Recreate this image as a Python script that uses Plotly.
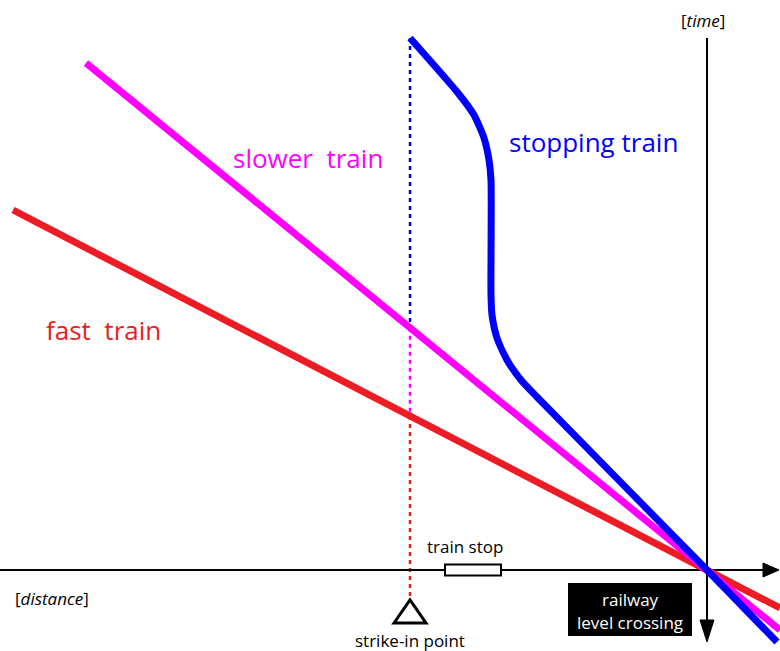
import plotly.graph_objects as go

# Diagram units: distance (x) measured from the level crossing, time (t) measured from the crossing moment
fast_x = [-694, 73]
fast_t = [360, -38]
slow_x = [-621, 73]
slow_t = [507, -60]
stop_x = [-297, -249, -233, -223, -218, -216, -216, -215, -210, -200, -186, -170, 0, 70]
stop_t = [532, 477, 455, 432, 410, 390, 275, 255, 232, 210, 190, 173, 0, -72]

strike_x = -297
crossing_x = 0
train_stop = [-262, -206]
x_range = [-707, 73]
t_range = [-81, 570]
t_axis_top = 532

RED = "#ED1C24"
MAG = "#FF00FF"
BLUE = "#0000FF"
FONT = "Open Sans"


def interp(xs, ts, x):
    for i in range(len(xs) - 1):
        if xs[i] <= x <= xs[i + 1]:
            f = (x - xs[i]) / (xs[i + 1] - xs[i])
            return ts[i] + f * (ts[i + 1] - ts[i])
    return None


t_blue = stop_t[0]
t_mag = interp(slow_x, slow_t, strike_x)
t_red = interp(fast_x, fast_t, strike_x)
t_tri_top = -30
t_tri_base = -53

fig = go.Figure()

# dotted strike-in verticals
for (t0, t1, c) in [(t_blue, t_mag, BLUE), (t_mag, t_red, MAG), (t_red, t_tri_top, RED)]:
    fig.add_trace(go.Scatter(x=[strike_x, strike_x], y=[t0, t1], mode="lines",
                             line=dict(color=c, width=2.5, dash="4px,4px"),
                             hoverinfo="skip", showlegend=False))

# axes lines
fig.add_trace(go.Scatter(x=[x_range[0], 60], y=[0, 0], mode="lines",
                         line=dict(color="black", width=2), hoverinfo="skip", showlegend=False))
fig.add_trace(go.Scatter(x=[crossing_x, crossing_x], y=[t_axis_top, -55], mode="lines",
                         line=dict(color="black", width=2), hoverinfo="skip", showlegend=False))

# train lines
fig.add_trace(go.Scatter(x=fast_x, y=fast_t, mode="lines", line=dict(color=RED, width=7),
                         hoverinfo="skip", showlegend=False))
fig.add_trace(go.Scatter(x=slow_x, y=slow_t, mode="lines", line=dict(color=MAG, width=7),
                         hoverinfo="skip", showlegend=False))
fig.add_trace(go.Scatter(x=stop_x, y=stop_t, mode="lines",
                         line=dict(color=BLUE, width=7, shape="spline", smoothing=0.6),
                         hoverinfo="skip", showlegend=False))

shapes = []
# arrowheads
shapes.append(dict(type="path", xref="x", yref="y",
                   path="M 56 7 L 72 0 L 56 -7 Z", fillcolor="black", line=dict(color="black", width=1)))
shapes.append(dict(type="path", xref="x", yref="y",
                   path="M -7 -50 L 0 -72 L 7 -50 Z", fillcolor="black", line=dict(color="black", width=1)))
# train stop rectangle
shapes.append(dict(type="rect", xref="x", yref="y", x0=train_stop[0], x1=train_stop[1], y0=-5.5, y1=5.5,
                   fillcolor="white", line=dict(color="black", width=2)))
# strike-in triangle
shapes.append(dict(type="path", xref="x", yref="y",
                   path=f"M {strike_x - 16} {t_tri_base} L {strike_x} {t_tri_top} L {strike_x + 16} {t_tri_base} Z",
                   fillcolor="white", line=dict(color="black", width=3)))
# railway level crossing box
shapes.append(dict(type="rect", xref="x", yref="y", x0=-139, x1=-15, y0=-66, y1=-13,
                   fillcolor="black", line=dict(color="black", width=0), layer="above"))

fig.update_layout(shapes=shapes)

ann = [
    ("stopping train", -114, 428, BLUE, 26),
    ("slower  train", -399, 412, MAG, 26),
    ("fast  train", -604, 240, RED, 26),
    ("train stop", -242, 24, "black", 17),
    ("[<i>distance</i>]", -655, -28, "black", 17),
    ("[<i>time</i>]", -4, 550, "black", 17),
    ("strike-in point", strike_x, -70, "black", 17),
    ("railway", -77, -29, "white", 17),
    ("level crossing", -77, -52, "white", 17),
]
for text, x, y, c, s in ann:
    fig.add_annotation(x=x, y=y, xref="x", yref="y", text=text, showarrow=False,
                       xanchor="center", yanchor="middle",
                       font=dict(family=FONT, color=c, size=s))

fig.update_xaxes(range=x_range, visible=False)
fig.update_yaxes(range=t_range, visible=False)
fig.update_layout(width=780, height=651, margin=dict(l=0, r=0, t=0, b=0),
                  plot_bgcolor="white", paper_bgcolor="white")

fig.write_html("out.html", config={"displayModeBar": False},
               post_script="document.body.style.margin='0';")
